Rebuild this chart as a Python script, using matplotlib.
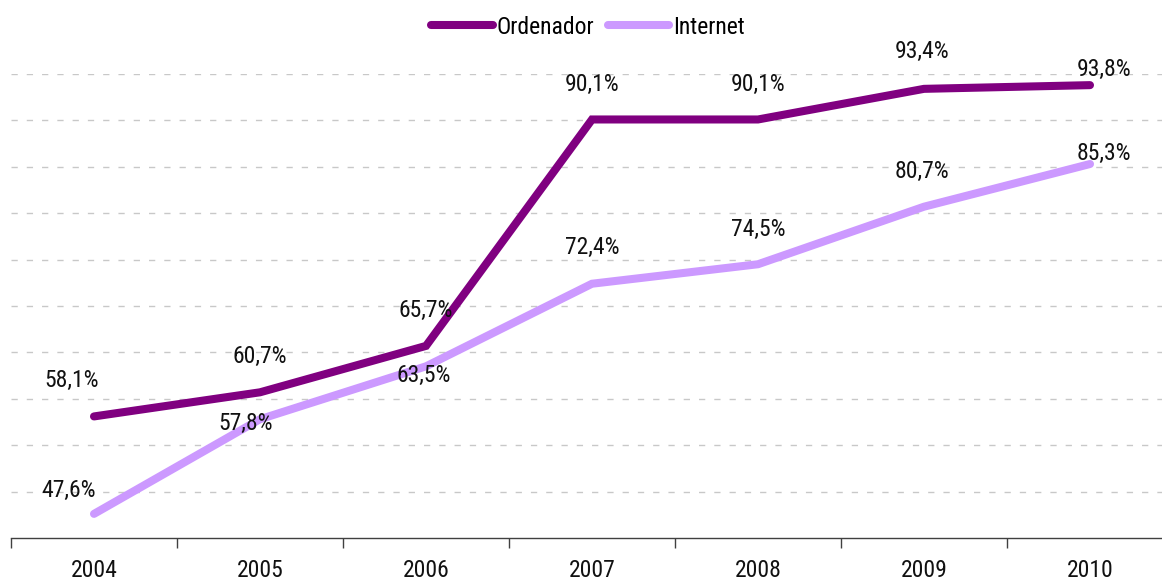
import matplotlib
matplotlib.use("Agg")
import matplotlib.pyplot as plt
from matplotlib.ticker import FixedLocator, NullFormatter

years = ["2004", "2005", "2006", "2007", "2008", "2009", "2010"]
ordenador = [58.1, 60.7, 65.7, 90.1, 90.1, 93.4, 93.8]
internet = [47.6, 57.8, 63.5, 72.4, 74.5, 80.7, 85.3]
ordenador_labels = ["58,1%", "60,7%", "65,7%", "90,1%", "90,1%", "93,4%", "93,8%"]
internet_labels = ["47,6%", "57,8%", "63,5%", "72,4%", "74,5%", "80,7%", "85,3%"]

plt.rcParams['font.family'] = ['Roboto Condensed', 'Archivo Narrow', 'Liberation Sans', 'DejaVu Sans']
FS = 17

W, H = 1162, 585
fig = plt.figure(figsize=(W / 100, H / 100), dpi=100)
ax = fig.add_axes([11 / W, (H - 538) / H, 1162 / W, (538 - 74) / H])

c_ord = "#800080"
c_int = "#CC99FF"
x = list(range(len(years)))
ax.plot(x, ordenador, color=c_ord, lw=5.8, solid_capstyle="round", solid_joinstyle="miter", label="Ordenador", zorder=3)
ax.plot(x, internet, color=c_int, lw=5.8, solid_capstyle="round", solid_joinstyle="miter", label="Internet", zorder=2)

ax.set_xlim(-0.5, 6.5)
ax.set_ylim(45, 95)
ax.set_yticks([50, 55, 60, 65, 70, 75, 80, 85, 90, 95])
ax.yaxis.grid(True, color="#c8c8c8", linestyle=(0, (4.5, 6.5)), lw=1.0)
ax.set_axisbelow(True)
ax.tick_params(axis="y", left=False, labelleft=False)
for s in ["top", "right", "left"]:
    ax.spines[s].set_visible(False)
ax.spines["bottom"].set_color("#404040")
ax.spines["bottom"].set_linewidth(1.0)

ax.set_xticks(x)
ax.set_xticklabels(years, fontsize=FS, color="#111111")
ax.tick_params(axis="x", which="major", length=0, pad=15)
ax.xaxis.set_minor_locator(FixedLocator([i - 0.5 for i in range(len(years) + 1)]))
ax.xaxis.set_minor_formatter(NullFormatter())
ax.tick_params(axis="x", which="minor", length=7, width=1.0, color="#404040")

ord_off = [(-22, 36), (0, 36), (0, 35), (0, 35), (0, 35), (-2, 37), (14, 16)]
int_off = [(-25, 23), (-14, -4), (-2, -9), (0, 36), (0, 35), (-2, 35), (14, 11)]
for i in x:
    ax.annotate(ordenador_labels[i], (i, ordenador[i]), xytext=ord_off[i], textcoords="offset pixels",
                ha="center", va="center", fontsize=FS, color="#111111", annotation_clip=False, zorder=5)
    ax.annotate(internet_labels[i], (i, internet[i]), xytext=int_off[i], textcoords="offset pixels",
                ha="center", va="center", fontsize=FS, color="#111111", annotation_clip=False, zorder=5)

leg = fig.legend(loc="center", bbox_to_anchor=(588 / W, 1 - 27 / H), ncol=2, frameon=False,
                 fontsize=FS, handlelength=2.6, handletextpad=0.15, columnspacing=0.6)

fig.savefig("out.png", dpi=100)
